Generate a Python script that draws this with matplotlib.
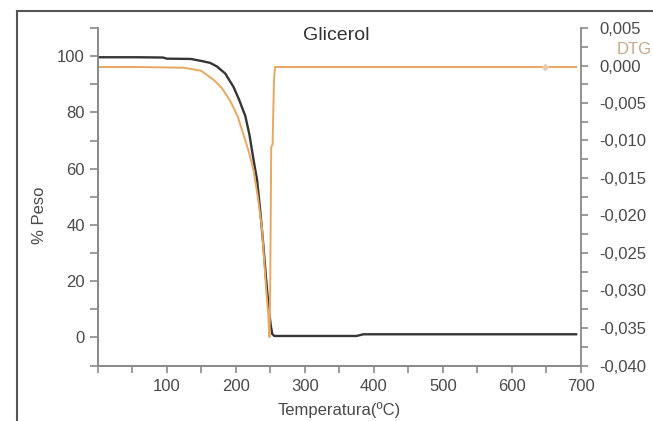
import matplotlib
matplotlib.use("Agg")
import matplotlib.pyplot as plt
from matplotlib.lines import Line2D
from matplotlib.ticker import MultipleLocator, FuncFormatter

plt.rcParams['font.family'] = ['Liberation Sans', 'DejaVu Sans']

# TG curve (% Peso, left axis)
tg_temp = [0, 60, 95, 100, 135, 150, 163, 173, 185, 197, 205, 214, 220, 226, 231, 236, 240, 244, 248, 251, 253, 256, 300, 375, 380, 385, 693]
tg_peso = [99.6, 99.6, 99.5, 99.1, 99.0, 98.3, 97.6, 96.3, 93.8, 89.0, 84.5, 78.7, 72.0, 63.0, 56.0, 44.0, 33.0, 21.0, 10.0, 4.0, 1.2, 0.5, 0.5, 0.5, 0.8, 1.1, 1.1]

# DTG curve (right axis)
dtg_temp = [0, 60, 125, 150, 168, 180, 192, 203, 211, 220, 226, 232, 238, 244, 247, 249, 250, 250.8, 251.5, 253.5, 255.5, 257, 300, 500, 693]
dtg_val = [-0.0002, -0.0002, -0.0003, -0.0007, -0.0019, -0.0030, -0.0047, -0.0068, -0.0091, -0.0118, -0.0140, -0.0175, -0.0216, -0.0296, -0.0330, -0.0362, -0.0300, -0.0200, -0.0109, -0.0105, -0.0020, -0.0002, -0.0002, -0.0002, -0.0002]
dtg_marker_temp = [648]
dtg_marker_val = [-0.0002]

title = "Glicerol"
xlabel = "Temperatura(ºC)"
ylabel = "% Peso"
right_label = "DTG"

gray = "#8a8a8a"
txt = "#4a4a4a"
black_line = "#353535"
tan_line = "#E7A862"

fig = plt.figure(figsize=(6.53, 4.21), dpi=100)
ax = fig.add_axes([97.5/653, 1-365.5/421, (581-97.5)/653, (365.5-28)/421])
ax2 = ax.twinx()

ax.plot(tg_temp, tg_peso, color=black_line, lw=1.7, zorder=3)
ax2.plot(dtg_temp, dtg_val, color=tan_line, lw=1.4, zorder=2)
ax2.plot(dtg_marker_temp, dtg_marker_val, marker='D', ms=3, color="#E3CDB0", lw=0)

ax.set_xlim(0, 700)
ax.set_ylim(-10, 110)
ax2.set_ylim(-0.040, 0.005)

ax.xaxis.set_major_locator(MultipleLocator(100))
ax.xaxis.set_minor_locator(MultipleLocator(50))
ax.yaxis.set_major_locator(MultipleLocator(20))
ax.yaxis.set_minor_locator(MultipleLocator(10))
ax2.yaxis.set_major_locator(MultipleLocator(0.005))
ax2.yaxis.set_minor_locator(MultipleLocator(0.0025))

ax.xaxis.set_major_formatter(FuncFormatter(lambda v, p: "" if v <= 0 else f"{v:.0f}"))
ax.yaxis.set_major_formatter(FuncFormatter(lambda v, p: "" if (v < 0 or v > 100) else f"{v:.0f}"))
ax2.yaxis.set_major_formatter(FuncFormatter(lambda v, p: f"{v:.3f}".replace(".", ",").replace("-0,000", "0,000")))

for a in (ax, ax2):
    for s in a.spines.values():
        s.set_color(gray)
        s.set_linewidth(1.3)
    a.spines['top'].set_visible(False)

ax.spines['right'].set_visible(False)
ax.tick_params(axis='both', which='both', direction='out', color=gray, width=1.2, labelcolor=txt, labelsize=12)
ax.tick_params(axis='x', which='both', length=5, pad=5)
ax.tick_params(axis='y', which='both', length=6, pad=3)
ax2.tick_params(axis='y', which='both', direction='out', color=gray, width=1.2, length=5, pad=8, labelcolor=txt, labelsize=12)

ax.set_xlabel(xlabel, fontsize=12, color=txt)
ax.xaxis.set_label_coords((339-97.5)/483.5, -(410-365.5)/337.5)
ax.xaxis.label.set_va('center')
ax.set_ylabel(ylabel, fontsize=12, color=txt)
ax.yaxis.set_label_coords(-(97.5-40)/483.5, (365.5-215)/337.5)
ax.yaxis.label.set_va('center')

ax.text(345, 107.5, title, ha='center', va='center', fontsize=14, color="#333333")
fig.text(634/653, 1-49/421, right_label, ha='center', va='center', fontsize=12, color="#C9A888")

# figure frame (top & left edges)
fig.add_artist(Line2D([17/653, 1.0], [1-10.5/421, 1-10.5/421], color="#555555", lw=1.5))
fig.add_artist(Line2D([17/653, 17/653], [0, 1-10.5/421], color="#555555", lw=1.5))

fig.savefig("out.png", dpi=100)
